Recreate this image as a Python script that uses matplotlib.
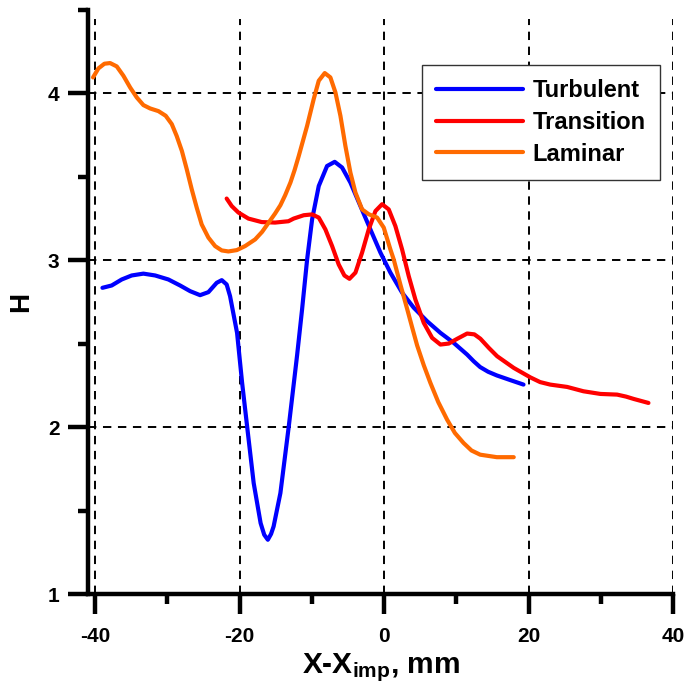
import matplotlib
matplotlib.use("Agg")
import matplotlib.pyplot as plt
from matplotlib.ticker import MultipleLocator

plt.rcParams['font.family'] = ['Liberation Sans', 'DejaVu Sans']
plt.rcParams['font.weight'] = 'bold'
plt.rcParams['axes.unicode_minus'] = False
plt.rcParams['mathtext.fontset'] = 'custom'
plt.rcParams['mathtext.rm'] = 'Liberation Sans:bold'
plt.rcParams['mathtext.it'] = 'Liberation Sans:bold'
plt.rcParams['mathtext.bf'] = 'Liberation Sans:bold'

# ---- data ----
turb_x = [-39.0, -37.72, -36.33, -34.95, -33.33, -31.7, -29.87, -28.25, -26.86, -25.48,
          -24.33, -23.18, -22.48, -21.8, -21.33, -20.36, -19.66, -18.97, -18.06, -17.1,
          -16.6, -16.1, -15.65, -15.3, -14.36, -13.2, -12.05, -11.36, -10.66, -9.97,
          -9.05, -7.9, -6.84, -5.82, -4.67, -3.28, -1.9, -0.51, 0.87, 2.49, 4.1, 5.95,
          7.8, 9.64, 11.49, 12.4, 13.3, 14.4, 15.6, 17.4, 19.3]
turb_y = [2.835, 2.849, 2.885, 2.909, 2.92, 2.909, 2.885, 2.849, 2.815, 2.791,
          2.809, 2.865, 2.881, 2.855, 2.785, 2.565, 2.265, 2.005, 1.665, 1.425,
          1.355, 1.325, 1.36, 1.405, 1.605, 2.005, 2.43, 2.705, 3.005, 3.245,
          3.445, 3.565, 3.59, 3.556, 3.466, 3.325, 3.185, 3.046, 2.926, 2.806, 2.716, 2.635,
          2.565, 2.505, 2.435, 2.395, 2.36, 2.332, 2.31, 2.283, 2.255]

trans_x = [-21.8, -21.1, -20.17, -18.79, -16.95, -15.1, -13.25, -12.52, -11.13, -9.97,
           -9.05, -8.13, -7.2, -6.29, -5.5, -4.8, -3.97, -3.05, -2.13, -1.2, -0.28,
           0.64, 1.56, 2.49, 3.41, 4.33, 5.49, 6.65, 7.8, 8.95, 10.1, 11.49, 12.5,
           13.33, 14.5, 15.65, 16.8, 17.95, 20.26, 21.6, 23.0, 25.34, 27.6, 29.95,
           32.26, 33.5, 34.56, 36.6]
trans_y = [3.37, 3.325, 3.286, 3.25, 3.229, 3.226, 3.234, 3.25, 3.27, 3.275,
           3.256, 3.185, 3.085, 2.975, 2.909, 2.889, 2.926, 3.046, 3.185, 3.295, 3.336,
           3.305, 3.205, 3.065, 2.905, 2.765, 2.625, 2.535, 2.495, 2.501, 2.529, 2.561, 2.556,
           2.53, 2.475, 2.425, 2.39, 2.355, 2.298, 2.27, 2.255, 2.241, 2.215, 2.199,
           2.195, 2.183, 2.169, 2.145]

lam_x = [-40.3, -39.56, -38.73, -37.94, -37.02, -36.1, -35.17, -34.25, -33.33, -32.4,
         -31.25, -30.24, -29.4, -28.72, -28.0, -27.33, -26.64, -25.95, -25.26, -24.33,
         -23.4, -22.48, -21.56, -20.4, -19.25, -17.86, -16.9, -16.0, -15.1, -14.36, -13.7,
         -12.97, -12.4, -11.82, -10.66, -9.75, -9.05, -8.22, -7.44, -6.74, -6.05, -5.36,
         -4.67, -3.97, -3.05, -2.13, -0.97, -0.05, 0.87, 1.33, 2.25, 3.18, 3.9, 4.57,
         5.5, 6.41, 7.5, 8.72, 9.8, 11.0, 12.1, 13.3, 15.6, 17.95]
lam_y = [4.096, 4.15, 4.178, 4.182, 4.162, 4.106, 4.036, 3.976, 3.93, 3.91,
         3.894, 3.866, 3.816, 3.745, 3.655, 3.546, 3.426, 3.316, 3.215, 3.136,
         3.085, 3.059, 3.053, 3.061, 3.085, 3.125, 3.17, 3.225, 3.28, 3.33, 3.39,
         3.466, 3.54, 3.625, 3.806, 3.966, 4.076, 4.122, 4.096, 4.006, 3.866, 3.685,
         3.526, 3.406, 3.305, 3.276, 3.256, 3.196, 3.065, 3.005, 2.855, 2.71, 2.595, 2.49,
         2.37, 2.265, 2.15, 2.045, 1.965, 1.905, 1.86, 1.835, 1.82, 1.82]

labels = ['Turbulent', 'Transition', 'Laminar']
colors = ['#0000FF', '#FF0000', '#FF6A00']

x_ticks = [-40, -20, 0, 20, 40]
y_ticks = [1, 2, 3, 4]

fig = plt.figure(figsize=(6.84, 6.92), dpi=100)
ax = fig.add_axes([88/684, (692-594)/692, (673-88)/684, (594-10)/692])

for xs, ys, lab, c in zip([turb_x, trans_x, lam_x], [turb_y, trans_y, lam_y], labels, colors):
    ax.plot(xs, ys, color=c, lw=3.0, label=lab, solid_joinstyle='round', solid_capstyle='round')

ax.set_xlim(-41, 40)
ax.set_ylim(1, 4.5)
ax.set_xticks(x_ticks)
ax.set_yticks(y_ticks)
ax.xaxis.set_minor_locator(MultipleLocator(10))
ax.yaxis.set_minor_locator(MultipleLocator(0.5))

for v in x_ticks:
    ax.axvline(v, ymax=0.985, color='black', lw=1.4, ls=(0, (4.3, 3.4)), zorder=0.5)
for v in [2, 3, 4]:
    ax.axhline(v, color='black', lw=1.4, ls=(0, (4.3, 3.4)), zorder=0.5)

for s in ['top', 'right']:
    ax.spines[s].set_visible(False)
for s in ['left', 'bottom']:
    ax.spines[s].set_linewidth(3.2)

ax.tick_params(which='major', direction='out', length=14.5, width=3.2, labelsize=15)
ax.tick_params(which='minor', direction='out', length=7.5, width=3.2)
ax.tick_params(axis='x', which='major', pad=9)
ax.tick_params(axis='y', which='major', pad=6)
for t in ax.get_xticklabels() + ax.get_yticklabels():
    t.set_fontweight('bold')

ax.set_xlabel('X-X$_{imp}$, mm', fontsize=21.5, fontweight='bold', labelpad=4)
ax.set_ylabel('H', fontsize=20, fontweight='bold', labelpad=10)

leg = ax.legend(loc='upper right', bbox_to_anchor=(0.978, 0.906), borderaxespad=0,
                fontsize=17, handlelength=3.7, handletextpad=0.4, labelspacing=0.37,
                borderpad=0.6, fancybox=False, framealpha=1, edgecolor='#333333')
leg.get_frame().set_linewidth(1.0)
for line in leg.get_lines():
    line.set_linewidth(3.0)
for t in leg.get_texts():
    t.set_fontweight('bold')

fig.savefig('out.png', dpi=100)
